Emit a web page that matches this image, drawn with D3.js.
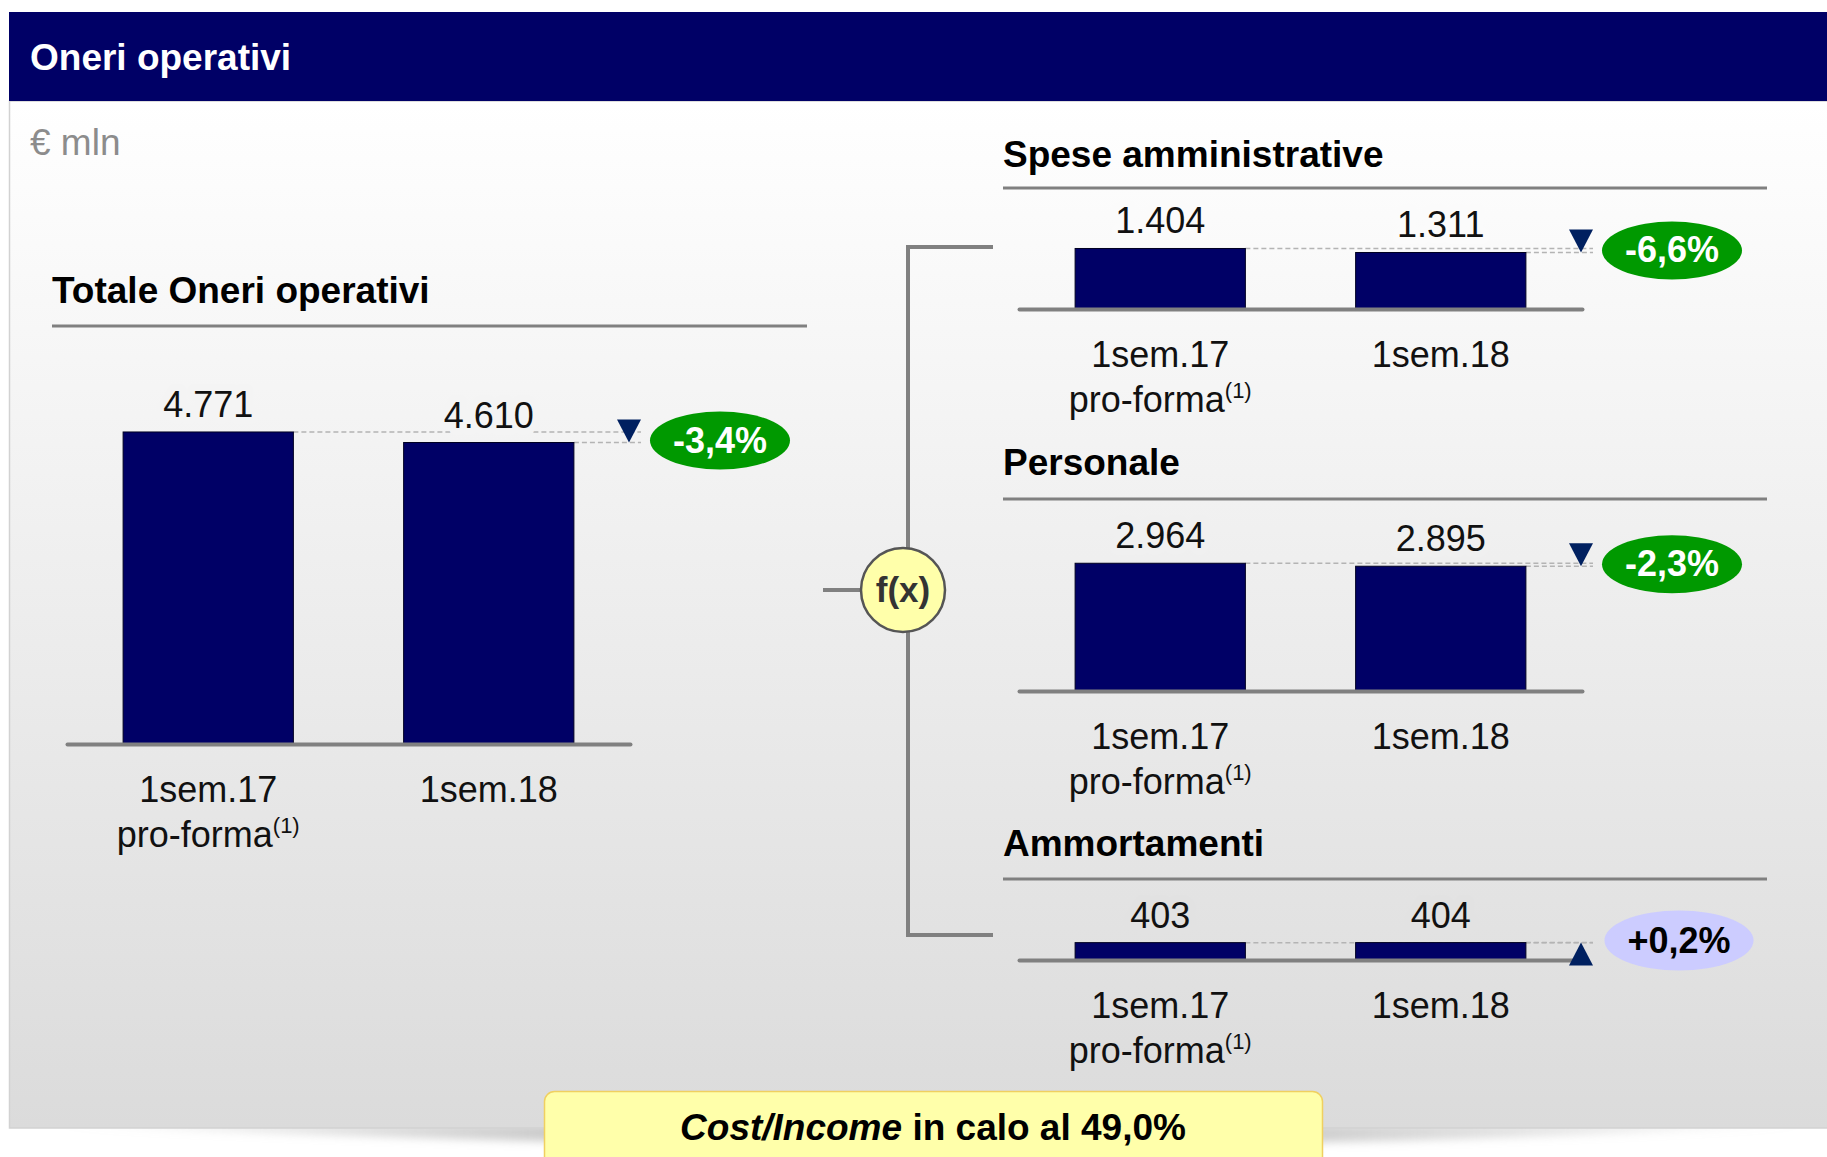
<!DOCTYPE html>
<meta charset="utf-8">
<html>
<head>
<script src="https://d3js.org/d3.v7.min.js"></script>
<style>
  body { margin: 0; overflow: hidden; background: #fff; }
  text { font-family: "Liberation Sans", Arial, sans-serif; }
</style>
</head>
<body>
<svg id="svg" width="1827" height="1157"></svg>
<script>
// data (€ mln)
const periods = ["1sem.17", "1sem.18"];
const periodNotes = ["pro-forma", ""];
const totale = [4771, 4610];
const spese = [1404, 1311];
const personale = [2964, 2895];
const ammortamenti = [403, 404];
const deltaLabels = ["-3,4%", "-6,6%", "-2,3%", "+0,2%"];
const panelTitles = ["Totale Oneri operativi", "Spese amministrative", "Personale", "Ammortamenti"];

const W = 1827, H = 1157;
const svg = d3.select("#svg");
const fmt = d3.formatLocale({decimal: ",", thousands: ".", grouping: [3], currency: ["€", ""]}).format(",d");

const bodyTop = 101, bodyBottom = 1128;
const bgAt = y => d3.interpolateRgb("#ffffff", "#dbdbdb")((y - bodyTop) / (bodyBottom - bodyTop));

const defs = svg.append("defs");
const bodyGrad = defs.append("linearGradient").attr("id", "bodyGrad")
  .attr("x1", 0).attr("y1", 0).attr("x2", 0).attr("y2", 1);
bodyGrad.append("stop").attr("offset", "0%").attr("stop-color", "#ffffff");
bodyGrad.append("stop").attr("offset", "100%").attr("stop-color", "#dbdbdb");

// shadow is darkest under the middle of the panel, fading to both ends
const shGrad = defs.append("linearGradient").attr("id", "shGrad")
  .attr("x1", 0).attr("y1", 0).attr("x2", 1).attr("y2", 0);
[[0, 0], [0.35, 0.8], [0.6, 0.85], [1, 0]].forEach(([o, a]) => {
  shGrad.append("stop").attr("offset", o).attr("stop-color", "#b0b0b0").attr("stop-opacity", a);
});
defs.append("filter").attr("id", "blur").attr("x", "-5%").attr("y", "-100%").attr("width", "110%").attr("height", "300%")
  .append("feGaussianBlur").attr("stdDeviation", 4);

svg.append("path")
  .attr("d", `M40,${bodyBottom - 4} L1820,${bodyBottom - 4} Q1000,${bodyBottom + 40} 40,${bodyBottom - 4} Z`)
  .attr("fill", "url(#shGrad)")
  .attr("filter", "url(#blur)");

// body + header
svg.append("rect")
  .attr("x", 9.5).attr("y", bodyTop).attr("width", W).attr("height", bodyBottom - bodyTop)
  .attr("fill", "url(#bodyGrad)").attr("stroke", "#d2d2d2").attr("stroke-width", 1.5);
svg.append("rect")
  .attr("x", 9).attr("y", 12).attr("width", W).attr("height", bodyTop - 12)
  .attr("fill", "#000066");
svg.append("text")
  .attr("x", 30).attr("y", 70)
  .attr("fill", "#fff").attr("font-size", 37).attr("font-weight", "bold")
  .text("Oneri operativi");
svg.append("text")
  .attr("x", 30).attr("y", 155)
  .attr("fill", "#8c8c8c").attr("font-size", 37)
  .text("€ mln");

// f(x) bracket linking the total to its components
const link = svg.append("g").attr("stroke", "#808080").attr("stroke-width", 4).attr("fill", "none");
link.append("path").attr("d", "M993,247 H908 V935 H993");
link.append("path").attr("d", "M823,590 H870");
svg.append("circle")
  .attr("cx", 903).attr("cy", 590).attr("r", 42)
  .attr("fill", "#ffffaa").attr("stroke", "#555").attr("stroke-width", 2.5);
svg.append("text")
  .attr("x", 903).attr("y", 602).attr("text-anchor", "middle")
  .attr("font-size", 35).attr("font-weight", "bold").attr("fill", "#333")
  .text("f(x)");

function drawPanel(p) {
  const g = svg.append("g");

  g.append("text")
    .attr("x", p.titleX).attr("y", p.titleY)
    .attr("font-size", 37).attr("font-weight", "bold").attr("fill", "#000")
    .text(p.title);
  g.append("line")
    .attr("x1", p.titleX).attr("x2", p.ruleX2)
    .attr("y1", p.ruleY).attr("y2", p.ruleY)
    .attr("stroke", "#808080").attr("stroke-width", 3);

  const x = d3.scaleBand()
    .domain(periods)
    .range([p.x0, p.x0 + 563])
    .paddingInner(0.393)
    .paddingOuter(0.2);
  const y = d3.scaleLinear()
    .domain([0, p.max])
    .range([p.base, p.base - p.max * p.k]);

  const data = periods.map((d, i) => ({period: d, note: periodNotes[i], value: p.values[i]}));
  const arrowX = p.x0 + 562;
  const last = data[data.length - 1];
  const up = last.value > data[0].value;

  // dashed guides from each bar top to the arrow
  g.selectAll(".guide").data(data).enter().append("line")
    .attr("x1", d => x(d.period) + x.bandwidth())
    .attr("x2", arrowX + 12)
    .attr("y1", d => y(d.value)).attr("y2", d => y(d.value))
    .attr("stroke", "#b4b4b4").attr("stroke-width", 1.5).attr("stroke-dasharray", "5,3");

  g.selectAll(".bar").data(data).enter().append("rect")
    .attr("x", d => x(d.period))
    .attr("width", x.bandwidth())
    .attr("y", d => y(d.value))
    .attr("height", d => y(0) - y(d.value))
    .attr("fill", "#000066").attr("stroke", "#000022").attr("stroke-width", 1);

  const axis = g.append("g")
    .attr("transform", `translate(0,${p.base})`)
    .call(d3.axisBottom(x).tickSize(0).tickSizeOuter(0).tickFormat(""));
  axis.select(".domain").attr("stroke", "#808080").attr("stroke-width", 4).attr("stroke-linecap", "round");

  g.selectAll(".val").data(data).enter().append("text")
    .attr("x", d => x(d.period) + x.bandwidth() / 2)
    .attr("y", d => y(d.value) - 15)
    .attr("text-anchor", "middle")
    .attr("font-size", 36).attr("fill", "#111")
    .attr("stroke", d => bgAt(y(d.value) - 27)).attr("stroke-width", 14)
    .attr("stroke-linejoin", "round").attr("paint-order", "stroke")
    .text(d => fmt(d.value));

  g.selectAll(".cat").data(data).enter().append("text")
    .attr("x", d => x(d.period) + x.bandwidth() / 2)
    .attr("y", p.base + 58)
    .attr("text-anchor", "middle")
    .attr("font-size", 36).attr("fill", "#111")
    .text(d => d.period);
  const notes = g.selectAll(".note").data(data.filter(d => d.note)).enter().append("text")
    .attr("x", d => x(d.period) + x.bandwidth() / 2)
    .attr("y", p.base + 103)
    .attr("text-anchor", "middle")
    .attr("font-size", 36).attr("fill", "#111");
  notes.append("tspan").text(d => d.note);
  notes.append("tspan").attr("font-size", 22).attr("dy", -14).text("(1)");

  const ty = y(last.value);
  g.append("path")
    .attr("d", up
      ? `M${arrowX - 12},${ty + 23} L${arrowX + 12},${ty + 23} L${arrowX},${ty} Z`
      : `M${arrowX - 12},${ty - 23} L${arrowX + 12},${ty - 23} L${arrowX},${ty} Z`)
    .attr("fill", "#002060");

  const bx = arrowX + (up ? 98 : 91), by = ty - 2;
  const badge = g.append("g");
  const ell = badge.append("ellipse").attr("cx", bx).attr("cy", by)
    .attr("fill", up ? "#ccccff" : "#009900");
  const t = badge.append("text")
    .attr("x", bx).attr("y", by + 12)
    .attr("text-anchor", "middle")
    .attr("font-size", 36).attr("font-weight", "bold")
    .attr("fill", up ? "#000" : "#fff")
    .text(p.delta);
  const tw = t.node().getComputedTextLength();
  ell.attr("rx", tw / 2 + 23).attr("ry", up ? 30 : 29);
}

drawPanel({title: panelTitles[0], values: totale, delta: deltaLabels[0],
  titleX: 52, titleY: 303, ruleY: 326, ruleX2: 807, x0: 67, base: 744, max: 5000, k: 0.0654});
drawPanel({title: panelTitles[1], values: spese, delta: deltaLabels[1],
  titleX: 1003, titleY: 167, ruleY: 188, ruleX2: 1767, x0: 1019, base: 309, max: 3000, k: 0.0431});
drawPanel({title: panelTitles[2], values: personale, delta: deltaLabels[2],
  titleX: 1003, titleY: 475, ruleY: 499, ruleX2: 1767, x0: 1019, base: 691, max: 3000, k: 0.0431});
drawPanel({title: panelTitles[3], values: ammortamenti, delta: deltaLabels[3],
  titleX: 1003, titleY: 856, ruleY: 879, ruleX2: 1767, x0: 1019, base: 960, max: 3000, k: 0.0431});

// cost/income call-out
svg.append("rect")
  .attr("x", 544.5).attr("y", 1091.5).attr("width", 778).attr("height", 100).attr("rx", 10)
  .attr("fill", "#ffffaa").attr("stroke", "#f0d060").attr("stroke-width", 1.5);
const note = svg.append("text")
  .attr("x", 933).attr("y", 1140).attr("text-anchor", "middle")
  .attr("font-size", 37).attr("font-weight", "bold").attr("fill", "#000");
note.append("tspan").attr("font-style", "italic").text("Cost/Income");
note.append("tspan").text(" in calo al 49,0%");
</script>
</body>
</html>
